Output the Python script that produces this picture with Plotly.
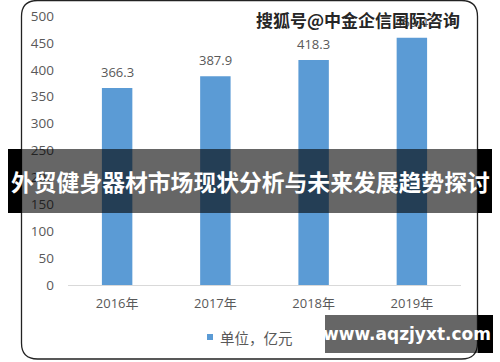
import plotly.graph_objects as go

categories = ["2016年", "2017年", "2018年", "2019年"]
values = [366.3, 387.9, 418.3, 459.4]
value_labels = ["366.3", "387.9", "418.3", "459.4"]
y_ticks = [0, 50, 100, 150, 200, 250, 300, 350, 400, 450, 500]
series_name = "单位，亿元"
banner_text = "外贸健身器材市场现状分析与未来发展趋势探讨"
watermark_top = "搜狐号@中金企信国际咨询"
watermark_bottom = "www.aqzjyxt.com"

W, H = 500, 362
L, R, T, B = 68, 39, 16, 77
PW, PH = W - L - R, H - T - B


def px(x):
    return (x - L) / PW


def py(y):
    return (H - B - y) / PH


FONT = "Open Sans, Noto Sans CJK SC, sans-serif"
CJK = "Noto Sans CJK SC, sans-serif"
GRAY = "#595959"
BAR = "#5b9bd5"

fig = go.Figure()
fig.add_trace(go.Bar(
    x=categories, y=values, name=series_name,
    marker=dict(color=BAR, line=dict(width=0)),
    width=0.31, showlegend=False, hoverinfo="skip",
))

annotations = []
for c, v, t in zip(categories, values, value_labels):
    annotations.append(dict(x=c, y=v, xref="x", yref="y", text=t, showarrow=False,
                            yshift=16, font=dict(size=13, color=GRAY, family=FONT)))

# rounded border path
x0, x1, y0, y1, r = 21.5, 477.5, 0.5, 359, 16
path = (f"M {px(x0+r)},{py(y0)} L {px(x1-r)},{py(y0)} Q {px(x1)},{py(y0)} {px(x1)},{py(y0+r)} "
        f"L {px(x1)},{py(y1-r)} Q {px(x1)},{py(y1)} {px(x1-r)},{py(y1)} "
        f"L {px(x0+r)},{py(y1)} Q {px(x0)},{py(y1)} {px(x0)},{py(y1-r)} "
        f"L {px(x0)},{py(y0+r)} Q {px(x0)},{py(y0)} {px(x0+r)},{py(y0)} Z")

shapes = [
    dict(type="path", path=path, xref="paper", yref="paper",
         line=dict(color="#222222", width=1.3), layer="above"),
    # legend swatch
    dict(type="rect", xref="paper", yref="paper", x0=px(207), x1=px(213), y0=py(340), y1=py(334),
         fillcolor=BAR, line=dict(width=0)),
    # banner
    dict(type="rect", xref="paper", yref="paper", x0=px(8), x1=px(492), y0=py(213), y1=py(149),
         fillcolor="rgba(0,0,0,0.6)", line=dict(width=0), layer="above"),
    dict(type="rect", xref="paper", yref="paper", x0=px(8), x1=px(22), y0=py(213), y1=py(149),
         fillcolor="black", line=dict(width=0), layer="above"),
    dict(type="rect", xref="paper", yref="paper", x0=px(478), x1=px(492), y0=py(213), y1=py(149),
         fillcolor="black", line=dict(width=0), layer="above"),
    # bottom watermark box
    dict(type="rect", xref="paper", yref="paper", x0=px(325), x1=px(493), y0=py(353), y1=py(315),
         fillcolor="rgba(0,0,0,0.6)", line=dict(width=0), layer="above"),
    dict(type="rect", xref="paper", yref="paper", x0=px(478), x1=px(493), y0=py(353), y1=py(315),
         fillcolor="black", line=dict(width=0), layer="above"),
    # white backing for top watermark
    dict(type="rect", xref="paper", yref="paper", x0=px(252), x1=px(466), y0=py(33), y1=py(7),
         fillcolor="white", line=dict(width=0), layer="above"),
]

annotations += [
    dict(x=px(218), y=py(337), xref="paper", yref="paper", text=series_name, showarrow=False,
         font=dict(size=14.5, color=GRAY, family=CJK), xanchor="left", yanchor="middle"),
    dict(x=px(250), y=py(181), xref="paper", yref="paper", text=banner_text, showarrow=False,
         font=dict(size=22.8, color="white", family=CJK, weight="bold"), xanchor="center", yanchor="middle"),
    dict(x=px(358), y=py(19), xref="paper", yref="paper", text=watermark_top, showarrow=False,
         font=dict(size=17, color="#262626", family=CJK, weight="bold"), xanchor="center", yanchor="middle"),
    dict(x=px(407), y=py(334), xref="paper", yref="paper", text=watermark_bottom, showarrow=False,
         font=dict(size=17, color="white", family="DejaVu Sans, sans-serif", weight="bold"),
         xanchor="center", yanchor="middle"),
]

fig.update_layout(
    width=W, height=H,
    margin=dict(l=L, r=R, t=T, b=B, pad=0, autoexpand=False),
    paper_bgcolor="white", plot_bgcolor="white",
    font=dict(family=FONT, size=13, color=GRAY),
    bargap=0.69,
    showlegend=False,
    hovermode=False,
    shapes=shapes,
    annotations=annotations,
    xaxis=dict(showgrid=False, showline=True, linecolor="#d9d9d9", linewidth=1, automargin=False,
               ticks="", tickfont=dict(size=13, color=GRAY, family=FONT), ticklabelstandoff=6),
    yaxis=dict(range=[0, 500], tickvals=y_ticks, showgrid=False, showline=False, zeroline=False,
               automargin=False,
               ticks="", tickfont=dict(size=13.5, color=GRAY, family=FONT), ticklabelstandoff=13),
)

fig.write_html("out.html", config={"displayModeBar": False},
               post_script="document.body.style.margin='0';")
